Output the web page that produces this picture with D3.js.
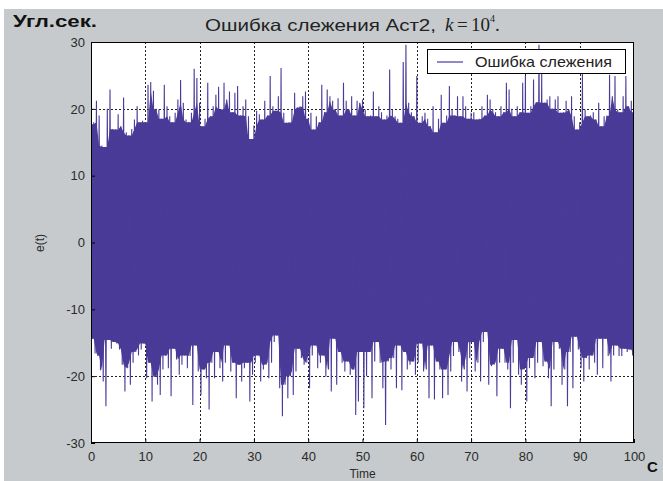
<!DOCTYPE html>
<html><head><meta charset="utf-8">
<script src="https://cdn.jsdelivr.net/npm/d3@7/dist/d3.min.js"></script>
<style>body{margin:0;background:#fff}svg{display:block}</style>
</head><body>
<script>
// sample spacing 0.5 s, t = 0 .. 100
const sampleStep = 0.5;
const upperPeaks = [17.7,18,21.2,19,14.5,14.3,20,22.9,17,16.9,19.2,17.4,21.7,16.5,16,17,18.4,20.4,18,18.2,
18,23.6,24,22.7,20,19.9,18.5,23.6,20.4,18.9,18,19.4,21.4,24.3,20.9,18.4,18,19.4,26,24.6,
20.9,17.4,18.5,23.9,18.9,20.4,22.1,23.3,19.9,23.9,21.4,22.6,19.5,22.4,23.4,19,20.4,21.4,18.9,15.5,
17.5,19.7,19.2,18.4,21.2,19,24.9,20.4,19.7,21.9,26.1,19.4,17.9,18,19.9,22.4,20.2,20.4,21.9,22.6,
18.5,19.4,16.9,18.9,18,23.6,19.5,22.9,21.9,21.2,19.9,21.6,19,23.9,21.2,19.9,21.9,19,21.2,20.9,
21.4,19.9,18.9,19,22.6,18.9,20.4,19.5,18.4,19,25.9,19.9,18.9,18.5,17.9,27,29.6,20.9,19.5,18.9,
24.9,17.9,18.9,19.4,18.5,17.4,20.4,16.5,18.5,22.1,17.9,19,23.4,19.9,19,21.9,18.9,21.9,20.4,18.5,
19.4,19.5,18.4,18.5,20.4,19,22.1,21.4,19.9,19.5,18.9,20.4,19.5,23.9,22.9,20,18.9,20.4,19.5,23.9,
24.9,19.4,20.4,24.4,21,29.6,25.4,20.9,21.4,21.9,20,21.4,21.9,19.4,19.5,21.2,19.9,21.9,18.9,16.9,
18,25.4,19.9,18.9,19,19.5,18.4,20.9,17.4,18.9,19,25.1,21.9,24.9,19.9,19.5,21.9,24.9,20.4,21.2,19.5];
const lowerPeaks = [-14.4,-16.6,-17,-19.1,-20.8,-24.5,-14.6,-15.9,-14.9,-15.1,-16,-18.3,-22.3,-18.8,-21.3,-18,-16.4,-16.9,-16,-15.1,
-20.3,-18,-23.8,-20.1,-21.3,-22.8,-19,-16.9,-18.8,-23,-15.9,-17.5,-19.8,-18.3,-16.9,-18.8,-17,-24.3,-15.4,-19.3,
-22.8,-19,-20.3,-25,-18,-20.3,-16.4,-18.8,-20.8,-18,-15.4,-19.3,-18,-23.3,-18.3,-20.8,-18.8,-18,-23.8,-19.8,
-18,-16.9,-20.8,-19,-18.3,-20.3,-18,-14.9,-13.9,-21.8,-26,-21.3,-23.3,-20,-22.8,-19.3,-15.9,-17.3,-18.3,-18,
-21.8,-16.9,-15.4,-18.8,-18,-16.9,-20.1,-19,-22.3,-14.4,-21.3,-16.4,-18,-19.3,-17.8,-19.8,-19,-25.8,-23.8,-16.4,
-24.8,-20,-16.4,-23.3,-17.8,-14.9,-18,-21.8,-27.3,-17.8,-19,-17.3,-21.8,-15.4,-22.1,-16.4,-19,-18.3,-17.8,-19.8,
-18,-15.1,-19.3,-19,-23.3,-15.4,-23.5,-17.8,-19,-23.3,-19,-22.8,-19.3,-17,-14.9,-16.4,-20.8,-19,-22.3,-17.3,
-14.9,-19.3,-18,-20.8,-14.9,-13.4,-21.3,-18.5,-18.3,-23,-18,-15.9,-18,-19,-24.8,-18,-14.6,-19.8,-21.3,-19,
-23.8,-18.8,-17.3,-20.3,-18,-14.9,-18.5,-17.8,-20.3,-24.5,-19,-14.9,-15.9,-21.3,-19,-24.5,-16.4,-21.8,-14.1,-16,
-18.8,-20.8,-17.3,-19,-16.9,-18,-19.8,-14.4,-18.8,-14.4,-17,-20.8,-16.9,-15.4,-17,-17,-15.9,-16.4,-16,-16.9,-22.3];
const xTicks = [0,10,20,30,40,50,60,70,80,90,100];
const yTicks = [-30,-20,-10,0,10,20,30];
const seriesName = "Ошибка слежения";

const W = 663, H = 481;
const L = 91, R = 634, T = 42, B = 443;
const col = "#4a3b98";
const svg = d3.select("body").append("svg").attr("width", W).attr("height", H);
svg.append("rect").attr("x", 4).attr("y", 9).attr("width", W-4).attr("height", H-9).attr("fill", "#c6cacd");

const x = d3.scaleLinear().domain([0,100]).range([L,R]);
const y = d3.scaleLinear().domain([-30,30]).range([B,T]);

svg.append("rect").attr("x", L).attr("y", T).attr("width", R-L).attr("height", B-T).attr("fill", "#fff");

svg.append("defs").append("clipPath").attr("id","clip").append("rect")
  .attr("x", L).attr("y", T).attr("width", R-L).attr("height", B-T);

// grid
const grid = svg.append("g").attr("stroke", "#222").attr("stroke-width", 1).attr("stroke-dasharray", "2,2");
grid.selectAll("line.v").data(xTicks.slice(1,-1)).join("line")
  .attr("x1", d => Math.round(x(d))+0.5).attr("x2", d => Math.round(x(d))+0.5).attr("y1", T).attr("y2", B);
grid.selectAll("line.h").data(yTicks.slice(1,-1)).join("line")
  .attr("y1", d => Math.round(y(d))+0.5).attr("y2", d => Math.round(y(d))+0.5).attr("x1", L).attr("x2", R);

const plot = svg.append("g").attr("clip-path","url(#clip)");

// dense core of the oscillation: where neighbouring swings overlap
const n = upperPeaks.length;
const core = upperPeaks.map((u, k) => {
  const a = Math.max(0, k-1), b = Math.min(n-1, k+1);
  const hi = d3.min(upperPeaks.slice(a, b+1));
  const lo = d3.max(lowerPeaks.slice(a, b+1));
  return [k*sampleStep, lo, hi];
});
const coreArea = d3.area().x(d => x(d[0])).y0(d => y(d[1])).y1(d => y(d[2]));
plot.append("path").datum(core).attr("d", coreArea).attr("fill", col);

// signal swings: alternate upper and lower peaks
const pts = [];
upperPeaks.forEach((u, k) => {
  const t = k*sampleStep;
  pts.push([t, u]);
  if (k < lowerPeaks.length) pts.push([t + sampleStep/2, lowerPeaks[k]]);
});
plot.append("path").datum(pts).attr("d", d3.line().x(d => x(d[0])).y(d => y(d[1])))
  .attr("fill","none").attr("stroke", col).attr("stroke-width", 1.1);

// frame
svg.append("rect").attr("x", L+0.5).attr("y", T+0.5).attr("width", R-L-1).attr("height", B-T-1)
  .attr("fill","none").attr("stroke","#000").attr("stroke-width",1);

// axes
const fontTick = "'Liberation Sans', Arial, sans-serif";
const xAxis = d3.axisBottom(x).tickValues(xTicks).tickFormat(d => String(d)).tickSize(-4).tickPadding(6);
const gx = svg.append("g").attr("transform", `translate(0,${B})`).call(xAxis);
const yAxis = d3.axisLeft(y).tickValues(yTicks).tickFormat(d => String(d)).tickSize(-4).tickPadding(6);
const gy = svg.append("g").attr("transform", `translate(${L},0)`).call(yAxis);
[gx, gy].forEach(g => {
  g.select(".domain").remove();
  g.selectAll("line").attr("stroke","#000");
  g.selectAll("text").attr("font-family", fontTick).attr("font-size", 13).attr("fill","#2a2a2a");
});
gx.selectAll("text").attr("dy", "0.95em");

// labels
svg.append("text").attr("x", 13).attr("y", 27).attr("font-family", fontTick).attr("font-weight","bold")
  .attr("font-size", 17).attr("textLength", 84).attr("lengthAdjust","spacingAndGlyphs").attr("fill","#111").text("Угл.сек.");
const title = svg.append("g").attr("fill","#222");
title.append("text").attr("x", 205).attr("y", 31).attr("font-family", fontTick).attr("font-size", 16.5)
  .attr("textLength", 231).attr("lengthAdjust","spacingAndGlyphs").text("Ошибка слежения Аст2,");
const serif = "'Liberation Serif', 'Times New Roman', serif";
title.append("text").attr("x", 445).attr("y", 31).attr("font-family", serif).attr("font-style","italic").attr("font-size", 19).text("k");
title.append("text").attr("x", 457).attr("y", 31).attr("font-family", serif).attr("font-size", 19).text("=");
title.append("text").attr("x", 471).attr("y", 31).attr("font-family", serif).attr("font-size", 19).text("10");
title.append("text").attr("x", 490).attr("y", 22).attr("font-family", serif).attr("font-size", 10).text("4");
title.append("text").attr("x", 495).attr("y", 31).attr("font-family", serif).attr("font-size", 19).text(".");

svg.append("text").attr("x", (L+R)/2).attr("y", 478).attr("text-anchor","middle").attr("font-family", fontTick)
  .attr("font-size", 12).attr("fill","#2a2a2a").text("Time");
svg.append("text").attr("x", 647).attr("y", 472).attr("font-family", fontTick).attr("font-weight","bold")
  .attr("font-size", 15).attr("fill","#111").text("С");
svg.append("text").attr("transform", "translate(44,243) rotate(-90)").attr("text-anchor","middle")
  .attr("font-family", fontTick).attr("font-size", 12).attr("fill","#2a2a2a").text("e(t)");

// legend
const lg = svg.append("g");
lg.append("rect").attr("x", 427.5).attr("y", 49.5).attr("width", 198).attr("height", 24)
  .attr("fill","#fff").attr("stroke","#000").attr("stroke-width",1);
lg.append("line").attr("x1", 437).attr("x2", 463).attr("y1", 62).attr("y2", 62).attr("stroke", "#5448ac").attr("stroke-width", 1.3);
lg.append("text").attr("x", 475).attr("y", 67).attr("font-family", fontTick).attr("font-size", 15)
  .attr("textLength", 137).attr("lengthAdjust","spacingAndGlyphs").attr("fill","#222").text(seriesName);
</script>
</body></html>
